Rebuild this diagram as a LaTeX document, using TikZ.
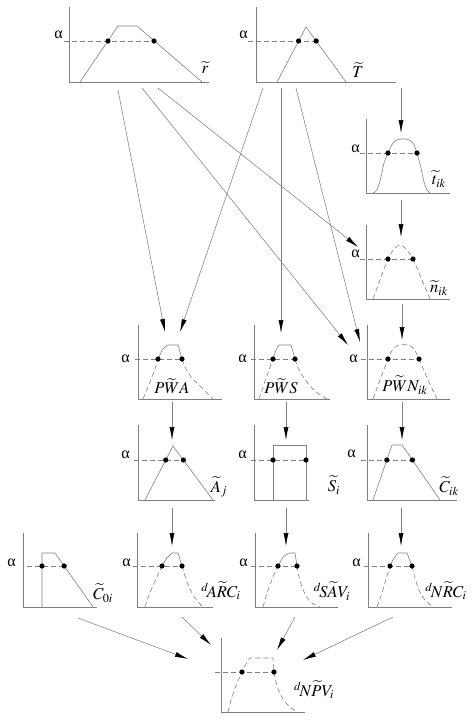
\documentclass[tikz,border=0pt]{standalone}
\usepackage{mathptmx}
\usepackage{fontspec}
\setmainfont{Liberation Serif}
\newfontfamily\grkfont{Liberation Serif}
\usetikzlibrary{arrows.meta}
\definecolor{ln}{gray}{0.5}
\tikzset{
  ax/.style={draw=ln, line width=0.6pt},
  crv/.style={draw=ln, line width=0.6pt},
  dcrv/.style={draw=ln, line width=0.6pt, dash pattern=on 5pt off 3pt},
  cut/.style={draw=ln, line width=0.6pt, dash pattern=on 5pt off 3pt},
  arr/.style={draw=ln, line width=0.55pt, -{Latex[black,length=13pt,width=5pt]}},
  lab/.style={font=\fontsize{16.5}{18}\selectfont, inner sep=0pt},
  alab/.style={font=\fontsize{16}{18}\grkfont, inner sep=0pt, anchor=base east},
  dotst/.style={fill=black}
}
\newcommand{\dotat}[1]{\fill[dotst] (#1) circle (2.6pt);}
\newcommand{\alf}{α}
\begin{document}
\begin{tikzpicture}[x=1pt,y=-1pt]
\useasboundingbox (0,0) rectangle (474,724);

% ---------- r ----------
\draw[ax] (69,7) -- (69,82) -- (209,82);
\draw[crv] (80,82) -- (118,26) -- (137,26) -- (202,82);
\draw[cut] (64,41) -- (154,41);
\dotat{108,41}\dotat{154,41}
\node[alab] (ar) at (63,38) {\alf};
\node[lab] (lr) at (205,68) {$\widetilde{r}$};

% ---------- T ----------
\draw[ax] (256,7) -- (256,82) -- (396,82);
\draw[crv] (277,82) -- (306,27) -- (346,82);
\draw[cut] (248,41) -- (316,41);
\dotat{298.6,41}\dotat{316.2,41}
\node[alab] (aT) at (248,38) {\alf};
\node[lab] (lT) at (358,70) {$\widetilde{T}$};

% ---------- t_ik ----------
\draw[ax] (366,119) -- (366,193) -- (450,193);
\draw[crv] plot[smooth] coordinates {(373,193)(377,190)(381,177)(384,163)(388,153)(393,143)(398,139.5)(403,139)(408,139.5)(413,143)(417,153)(421,168)(424,182)(427,190)(430,193)};
\draw[cut] (360,153) -- (417,153);
\dotat{388,153}\dotat{417,153}
\node[alab] (atik) at (360,152) {\alf};
\node[lab] (ltik) at (439,179) {$\widetilde{t}_{ik}$};

% ---------- n_ik ----------
\draw[ax] (366,225) -- (366,299) -- (450,299);
\draw[dcrv] plot[smooth] coordinates {(373,299)(380,280)(388,259)(394,249)(400,245)(406,249)(413,259)(422,280)(430,299)};
\draw[cut] (360,259) -- (413,259);
\dotat{388,259}\dotat{413,259}
\node[alab] (anik) at (360,257) {\alf};
\node[lab] (lnik) at (439,288) {$\widetilde{n}_{ik}$};

% ---------- PWA ----------
\draw[ax] (138,325) -- (138,399) -- (222,399);
\draw[dcrv] plot[smooth] coordinates {(143,399)(150,382)(155,369)(158,359)};
\draw[crv] plot[smooth] coordinates {(158,359)(163,349)(168,345)} -- (178,345) -- (182,359);
\draw[dcrv] plot[smooth] coordinates {(182,359)(186,369)(192,378)(200,386)(207,393)(213,399)};
\draw[cut] (135,359) -- (182,359);
\dotat{158,359}\dotat{182,359}
\node[alab] (apwa) at (130,362) {\alf};
\node[lab] (lpwa) at (172,386) {$P\widetilde{W}A$};

% ---------- PWS ----------
\draw[ax] (254,325) -- (254,399) -- (330,399);
\draw[dcrv] plot[smooth] coordinates {(259,399)(264,384)(269,370)(273,359)};
\draw[crv] plot[smooth] coordinates {(273,359)(276,350)(279,345)} -- (291,345) -- (295,359);
\draw[dcrv] plot[smooth] coordinates {(295,359)(299,370)(306,381)(314,390)(322,396)(327,399)};
\draw[cut] (251,359) -- (295,359);
\dotat{273,359}\dotat{295,359}
\node[alab] (apws) at (247,362) {\alf};
\node[lab] (lpws) at (281,386) {$P\widetilde{W}S$};

% ---------- PWN ----------
\draw[ax] (367,325) -- (367,399) -- (450,399);
\draw[dcrv] plot[smooth] coordinates {(373,399)(380,380)(388,359)(393,349)(399,345)(408,345)(414,349)(419,359)(428,380)(437,399)};
\draw[cut] (361,359) -- (419,359);
\dotat{388,359}\dotat{419,359}
\node[alab] (apwn) at (358,362) {\alf};
\node[lab] (lpwn) at (405,385) {$P\widetilde{W}N_{ik}$};

% ---------- A_j ----------
\draw[ax] (138,425) -- (138,500) -- (215,500);
\draw[crv] (145,500) -- (173,446) -- (213,500);
\draw[cut] (134,460) -- (183.4,460);
\dotat{165.7,460}\dotat{183.4,460}
\node[alab] (aaj) at (130,458) {\alf};
\node[lab] (laj) at (219,487) {$\widetilde{A}_j$};

% ---------- S_i ----------
\draw[ax] (254,425) -- (254,500) -- (309,500);
\draw[crv] (273,500) -- (273,445) -- (306,445) -- (306,500);
\draw[cut] (251,460) -- (306,460);
\dotat{273,460}\dotat{306,460}
\node[alab] (asi) at (247,458) {\alf};
\node[lab] (lsi) at (334,485) {$\widetilde{S}_i$};

% ---------- C_ik ----------
\draw[ax] (367,425) -- (367,500) -- (457,500);
\draw[crv] (373,500) -- (392,445) -- (402,445) -- (440,500);
\draw[cut] (361,460) -- (412.4,460);
\dotat{386.8,460}\dotat{412.4,460}
\node[alab] (acik) at (356,457) {\alf};
\node[lab] (lcik) at (449,486) {$\widetilde{C}_{ik}$};

% ---------- C_0i ----------
\draw[ax] (23,533) -- (23,607) -- (97,607);
\draw[crv] (42,607) -- (42,553) -- (55,553) -- (93,607);
\draw[cut] (27,566) -- (64,566);
\dotat{42,566}\dotat{64.2,566}
\node[alab] (ac0i) at (16,566) {\alf};
\node[lab] (lc0i) at (103,593) {$\widetilde{C}_{0i}$};

% ---------- ARC ----------
\draw[ax] (137,533) -- (137,607) -- (213,607);
\draw[dcrv] plot[smooth] coordinates {(145,607)(148,598)(152,588)(157,577)(162,566)};
\draw[crv] plot[smooth] coordinates {(162,566)(167,558)(172,553)} -- (178,553) -- (182,566);
\draw[dcrv] plot[smooth] coordinates {(182,566)(185,576)(189,587)(195,598)(203,607)};
\draw[cut] (133,566) -- (182,566);
\dotat{162,566}\dotat{182,566}
\node[alab] (aarc) at (131,566) {\alf};
\node[lab] (larc) at (221,591) {$^{d}\!A\widetilde{R}C_i$};

% ---------- SAV ----------
\draw[ax] (255,533) -- (255,607) -- (338,607);
\draw[dcrv] plot[smooth] coordinates {(263,607)(267,593)(273,577)(278,566)};
\draw[crv] plot[smooth] coordinates {(278,566)(284,556)(290,553)} -- (295,553) -- (297,566);
\draw[dcrv] plot[smooth] coordinates {(297,566)(300,581)(306,596)(312,603)(320,607)};
\draw[cut] (251,566) -- (297,566);
\dotat{278,566}\dotat{297,566}
\node[alab] (asav) at (248,566) {\alf};
\node[lab] (lsav) at (332,591) {$^{d}\!S\widetilde{A}V_i$};

% ---------- NRC ----------
\draw[ax] (368,533) -- (368,607) -- (452,607);
\draw[dcrv] plot[smooth] coordinates {(377,607)(382,593)(386,579)(390,566)};
\draw[crv] plot[smooth] coordinates {(390,566)(394,558)(398,553)} -- (407,553) -- (412,566);
\draw[dcrv] plot[smooth] coordinates {(412,566)(415,578)(419,590)(425,600)(433,607)};
\draw[cut] (364,566) -- (412,566);
\dotat{390,566}\dotat{412,566}
\node[alab] (anrc) at (361,566) {\alf};
\node[lab] (lnrc) at (446,591) {$^{d}\!N\widetilde{R}C_i$};

% ---------- NPV ----------
\draw[ax] (221,638) -- (221,712) -- (305,712);
\draw[dcrv] plot[smooth] coordinates {(228,712)(232,697)(237,683)(242,672)(246,664)(250,658)} -- (273,658) -- plot[smooth] coordinates {(274,672)(277,686)(283,699)(290,707)(298,712)};
\draw[cut] (215,672) -- (274,672);
\dotat{242,672}\dotat{274,672}
\node[lab] (lnpv) at (314,690) {$^{d}\!N\widetilde{P}V_i$};

% ---------- connectors ----------
\coordinate (r1) at (118,90);
\coordinate (r2) at (142,88);
\coordinate (r3) at (158,88);
\coordinate (T1) at (263,88);
\coordinate (T2) at (281,88);
\coordinate (T3) at (296,88);
\coordinate (T4) at (401,88);
\coordinate (pwaA) at (165,332);
\coordinate (pwaB) at (180,332);
\coordinate (pwsA) at (281,333);
\coordinate (pwnA) at (348,345);
\coordinate (pwnB) at (360,342);
\coordinate (nikA) at (358,247);
\coordinate (tikA) at (401,133);

\draw[arr] (r1) -- (pwaA);
\draw[arr] (T1) -- (pwaB);
\draw[arr] (T2) -- (pwsA);
\draw[arr] (r2) -- (pwnA);
\draw[arr] (T3) -- (pwnB);
\draw[arr] (r3) -- (nikA);
\draw[arr] (T4) -- (tikA);

\coordinate (tikB) at (401,200);
\coordinate (nikB) at (401,237);
\coordinate (nikC) at (402,304);
\coordinate (pwnC) at (402,340);
\coordinate (pwaC) at (172,402);
\coordinate (ajA) at (172,440);
\coordinate (pwsC) at (286,402);
\coordinate (siA) at (286,440);
\coordinate (pwnD) at (402,402);
\coordinate (cikA) at (402,440);
\coordinate (ajB) at (172,508);
\coordinate (arcA) at (172,546);
\coordinate (siB) at (286,508);
\coordinate (savA) at (286,546);
\coordinate (cikB) at (401,508);
\coordinate (nrcA) at (401,546);

\draw[arr] (tikB) -- (nikB);
\draw[arr] (nikC) -- (pwnC);
\draw[arr] (pwaC) -- (ajA);
\draw[arr] (pwsC) -- (siA);
\draw[arr] (pwnD) -- (cikA);
\draw[arr] (ajB) -- (arcA);
\draw[arr] (siB) -- (savA);
\draw[arr] (cikB) -- (nrcA);

\coordinate (c0iB) at (78,618);
\coordinate (arcB) at (182,617);
\coordinate (savB) at (295,617);
\coordinate (nrcB) at (393,617);
\coordinate (npvA) at (188,659);
\coordinate (npvB) at (211,645);
\coordinate (npvC) at (277,650);
\coordinate (npvD) at (303,660);

\draw[arr] (c0iB) -- (npvA);
\draw[arr] (arcB) -- (npvB);
\draw[arr] (savB) -- (npvC);
\draw[arr] (nrcB) -- (npvD);
\end{tikzpicture}
\end{document}
